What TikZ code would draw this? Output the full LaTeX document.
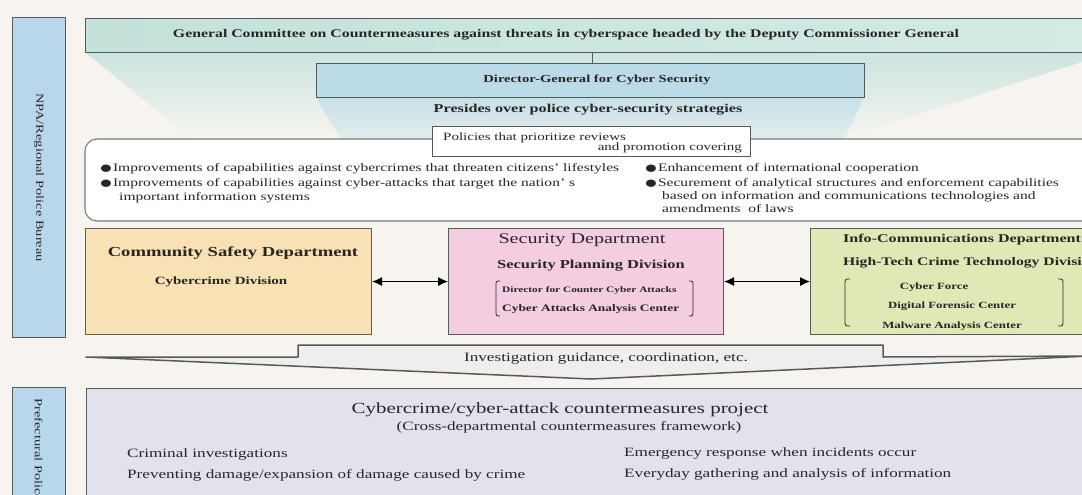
\documentclass[tikz,border=0pt]{standalone}
\usepackage{fontspec}
\setmainfont[FakeStretch=1.35]{Liberation Serif}
\usetikzlibrary{arrows.meta}
\definecolor{bg}{HTML}{F7F4F0}
\definecolor{txt}{HTML}{262626}
\definecolor{bord}{HTML}{555A5C}
\definecolor{side}{HTML}{B9D7EA}
\definecolor{genL}{HTML}{C4E1DA}
\definecolor{genR}{HTML}{D4EAE5}
\definecolor{dirf}{HTML}{BCDBE8}
\definecolor{funA}{HTML}{CBE4DF}
\definecolor{funB}{HTML}{C6E0E6}
\definecolor{commf}{HTML}{F8E2B5}
\definecolor{secf}{HTML}{F4CDE0}
\definecolor{infof}{HTML}{E0E9B5}
\definecolor{invf}{HTML}{EFEEEC}
\definecolor{projf}{HTML}{E3E2EC}
\newcommand\setfs[1]{\fontsize{#1}{#1}\selectfont}
\newcommand\bigdot{\smash{\setfs{17}\raisebox{-2pt}{●}}}
\tikzset{
  lbl/.style={inner sep=0pt, text=txt},
  boxn/.style={draw=bord, line width=1.1pt, inner sep=0pt, anchor=north west},
  conn/.style={draw=bord, line width=1pt},
  dbl/.style={draw=black, line width=1pt, {Latex[length=10pt,width=9pt]}-{Latex[length=10pt,width=9pt]}},
  brk/.style={draw=txt, line width=0.8pt},
}
\begin{document}
\begin{tikzpicture}[x=1pt,y=-1pt]
\useasboundingbox (0,0) rectangle (1082,495);
\clip (0,0) rectangle (1082,495);
\fill[bg] (0,0) rectangle (1082,495);

% funnels
\shade[top color=funA, bottom color=bg] (85,52) -- (1082,52) -- (1082,62) -- (845,138) -- (190,138) -- cycle;
\shade[top color=funB, bottom color=bg!60!funB] (316,97) -- (864,97) -- (845,138) -- (340,138) -- cycle;

% side labels
\node[boxn, fill=side, minimum width=53, minimum height=320] (npa) at (12,17) {};
\node[lbl, rotate=-90, font=\setfs{10.7}] (npat) at (npa.center) {NPA/Regional Police Bureau};
\node[boxn, fill=side, minimum width=53, minimum height=130] (pref) at (12,387) {};
\node[lbl, rotate=-90, anchor=west, font=\setfs{10.7}] (preft) at (38.5,398) {Prefectural Police};

% general committee
\node[boxn, left color=genL, right color=genR, minimum width=1015, minimum height=34] (gen) at (85,18) {};
\node[lbl, font=\bfseries\setfs{11.7}] (gent) at (566,35) {General Committee on Countermeasures against threats in cyberspace headed by the Deputy Commissioner General};

% director
\node[boxn, fill=dirf, minimum width=548, minimum height=34] (dir) at (316,63) {};
\node[lbl, font=\bfseries\setfs{10.8}] (dirt) at (597,80) {Director-General for Cyber Security};
\coordinate (cx) at (592,0);
\draw[conn] (gen.south -| cx) -- (dir.north -| cx);

\node[lbl, font=\bfseries\setfs{12}] (pres) at (588,110) {Presides over police cyber-security strategies};

% policies
\draw[draw=bord!80, line width=1.1pt, fill=white, rounded corners=12] (85,139) rectangle (1100,221);
\node[boxn, fill=white, minimum width=318, minimum height=30] (pol) at (432,126) {};
\node[lbl, anchor=base west, font=\setfs{11.1}] (pol1) at (443,140) {Policies that prioritize reviews};
\node[lbl, anchor=base east, font=\setfs{11.1}] (pol2) at (742,150) {and promotion covering};

\node[lbl, anchor=base west, font=\setfs{11.5}] (b1) at (99,171) {\bigdot Improvements of capabilities against cybercrimes that threaten citizens' lifestyles};
\node[lbl, anchor=base west, font=\setfs{11.5}] (b2) at (99,186) {\bigdot Improvements of capabilities against cyber-attacks that target the nation' s};
\node[lbl, anchor=base west, font=\setfs{11.5}] (b2b) at (119,200) {important information systems};
\node[lbl, anchor=base west, font=\setfs{11.5}] (b3) at (644,171) {\bigdot Enhancement of international cooperation};
\node[lbl, anchor=base west, font=\setfs{11.5}] (b4) at (644,186) {\bigdot Securement of analytical structures and enforcement capabilities};
\node[lbl, anchor=base west, font=\setfs{11.5}] (b4b) at (662,199) {based on information and communications technologies and};
\node[lbl, anchor=base west, font=\setfs{11.5}] (b4c) at (662,212) {amendments\ \ of laws};

% departments
\node[boxn, fill=commf, draw=bord!90!brown, minimum width=286, minimum height=106] (comm) at (85,228) {};
\node[boxn, fill=secf, minimum width=275, minimum height=106] (sec) at (448,228) {};
\node[boxn, fill=infof, minimum width=290, minimum height=106] (info) at (810,228) {};
\draw[dbl] (comm) -- (sec);
\draw[dbl] (sec) -- (info);

\node[lbl, font=\bfseries\setfs{13.8}] (commt) at (233,253) {Community Safety Department};
\node[lbl, font=\bfseries\setfs{11.1}] (commd) at (221,282) {Cybercrime Division};

\node[lbl, font=\setfs{14.9}] (sect) at (582,240) {Security Department};
\node[lbl, font=\bfseries\setfs{12.2}] (secd) at (591,266) {Security Planning Division};
\node[lbl, anchor=west, font=\bfseries\setfs{8.4}] (sec1) at (502,290) {Director for Counter Cyber Attacks};
\node[lbl, anchor=west, font=\bfseries\setfs{9.9}] (sec2) at (502,309) {Cyber Attacks Analysis Center};
\draw[brk] (500,281) .. controls (496,281) .. (496,286) -- (496,310) .. controls (496,316) .. (500,316);
\draw[brk] (689,281) .. controls (693,281) .. (693,286) -- (693,310) .. controls (693,316) .. (689,316);

\node[lbl, anchor=west, font=\bfseries\setfs{11.9}] (infot) at (843,240) {Info-Communications Department};
\node[lbl, anchor=west, font=\bfseries\setfs{11.6}] (infod) at (843,263) {High-Tech Crime Technology Division};
\node[lbl, font=\bfseries\setfs{9.5}] (inf1) at (934,287) {Cyber Force};
\node[lbl, font=\bfseries\setfs{9.5}] (inf2) at (952,306) {Digital Forensic Center};
\node[lbl, font=\bfseries\setfs{9.5}] (inf3) at (952,326) {Malware Analysis Center};
\draw[brk] (850,279) .. controls (845,279) .. (845,285) -- (845,320) .. controls (845,326) .. (850,326);
\draw[brk] (1058,279) .. controls (1063,279) .. (1063,285) -- (1063,320) .. controls (1063,326) .. (1058,326);

% investigation arrow
\draw[draw=bord, line width=1.5pt, fill=invf, line join=round] (86,357) -- (298,357) -- (298,345) -- (883,345) -- (883,357) -- (1090,356) -- (591,379) -- cycle;
\node[lbl, font=\setfs{12.7}] (inv) at (606,358) {Investigation guidance, coordination, etc.};

% project
\node[boxn, fill=projf, minimum width=1015, minimum height=130] (proj) at (86,388) {};
\node[lbl, font=\setfs{15.5}] (projt) at (560,410) {Cybercrime/cyber-attack countermeasures project};
\node[lbl, font=\setfs{12.7}] (projs) at (569,427) {(Cross-departmental countermeasures framework)};
\node[lbl, anchor=west, font=\setfs{12.7}] (p1) at (127,454) {Criminal investigations};
\node[lbl, anchor=west, font=\setfs{12.7}] (p2) at (127,475) {Preventing damage/expansion of damage caused by crime};
\node[lbl, anchor=west, font=\setfs{12.7}] (p3) at (624,453) {Emergency response when incidents occur};
\node[lbl, anchor=west, font=\setfs{12.7}] (p4) at (624,474) {Everyday gathering and analysis of information};
\end{tikzpicture}
\end{document}
